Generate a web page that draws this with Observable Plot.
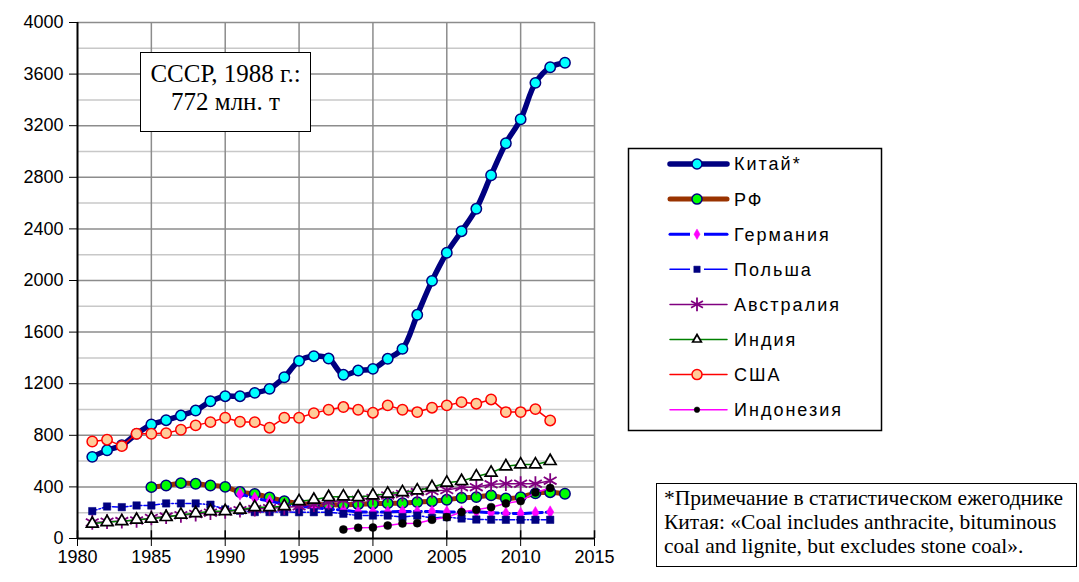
<!DOCTYPE html>
<html><head><meta charset="utf-8">
<script src="https://cdn.jsdelivr.net/npm/d3@7"></script>
<script src="https://cdn.jsdelivr.net/npm/@observablehq/plot@0.6"></script>
<style>
body{margin:0;background:#fff;}
#wrap{position:relative;width:1079px;height:582px;overflow:hidden;background:#fff;}
#wrap svg{position:absolute;left:0;top:0;}
.box{position:absolute;border:1.5px solid #000;background:#fff;box-sizing:border-box;font-family:"Liberation Serif","Times New Roman",serif;color:#000;}
</style></head><body><div id="wrap"></div>
<script>
// ---- data ----
const years = [1981,1982,1983,1984,1985,1986,1987,1988,1989,1990,1991,1992,1993,1994,1995,1996,1997,1998,1999,2000,2001,2002,2003,2004,2005,2006,2007,2008,2009,2010,2011,2012,2013];
const china = [633,684,723,811,884,917,953,992,1064,1103,1103,1129,1160,1250,1377,1413,1395,1269,1302,1315,1393,1470,1734,1997,2215,2382,2556,2816,3064,3250,3532,3653,3688]; // from 1981
const rf = [398,411,429,424,411,400,360,345,318,290,272,265,262,260,266,270,272,274,282,289,300,316,321,334,310,321,350,359,347]; // from 1985
const germany = [345,312,290,265,250,240,228,220,205,205,205,210,208,210,205,205,207,200,195,193,200,205]; // from 1991
const poland = [212,248,243,256,256,272,272,272,262,225,215,205,205,205,204,204,204,192,178,178,178,166,178,160,166,155,147,146,145,145,145,145]; // from 1981
const australia = [125,130,135,140,160,170,180,190,200,210,220,228,235,240,250,262,280,295,300,315,334,345,360,368,375,398,398,420,425,425,425,448]; // from 1981
const india = [114,127,134,145,153,166,184,196,212,212,223,243,243,250,289,300,321,326,321,334,347,359,372,398,432,445,481,510,559,574,574,600]; // from 1981
const usa = [752,766,716,812,812,817,843,877,902,936,905,902,859,936,936,972,998,1019,998,975,1032,998,980,1014,1032,1057,1045,1078,980,980,1003,915]; // from 1981
const indonesia = [70,83,85,100,117,119,145,165,205,222,243,272,290,357,392]; // from 1998

const xTicks = [1980,1985,1990,1995,2000,2005,2010,2015];
const yTicks = [0,400,800,1200,1600,2000,2400,2800,3200,3600,4000];
const yMinor = [200,600,1000,1400,1800,2200,2600,3000,3400,3800];

const series = [
  {name:"Китай*", start:1981, values:china, stroke:"#000080", sw:5.5, dash:null, curve:"catmull-rom", symbol:"circle", r:5.2, fill:"#00ffff", mstroke:"#000080", msw:1.5, lr:5},
  {name:"РФ", start:1985, values:rf, stroke:"#993300", sw:5, dash:null, curve:"catmull-rom", symbol:"circle", r:5.2, fill:"#00ff00", mstroke:"#000080", msw:1.5, lr:5},
  {name:"Германия", start:1991, values:germany, stroke:"#0000ff", sw:3, dash:"7,4", curve:"linear", symbol:"diamond", r:3.8, fill:"#ff00ff", mstroke:"#ff00ff", msw:0.5, lr:3.2},
  {name:"Польша", start:1981, values:poland, stroke:"#0000ff", sw:1.5, dash:"5,2,1.5,2", curve:"linear", symbol:"square", r:4.2, fill:"#000080", mstroke:"#000080", msw:0.5, lr:3.6},
  {name:"Австралия", start:1981, values:australia, stroke:"#800080", sw:1.5, dash:null, curve:"linear", symbol:"asterisk", r:7, fill:"none", mstroke:"#800080", msw:1.8, lr:6.5},
  {name:"Индия", start:1981, values:india, stroke:"#008000", sw:1.5, dash:null, curve:"linear", symbol:"triangle", r:4.4, fill:"#ffffff", mstroke:"#000000", msw:1.7, lr:3.2},
  {name:"США", start:1981, values:usa, stroke:"#ff0000", sw:1.5, dash:null, curve:"linear", symbol:"circle", r:5.2, fill:"#ffcc99", mstroke:"#ff0000", msw:1.5, lr:5},
  {name:"Индонезия", start:1998, values:indonesia, stroke:"#ff00ff", sw:1.5, dash:null, curve:"linear", symbol:"circle", r:4, fill:"#000000", mstroke:"#000000", msw:0.5, lr:2.8}
];
series.forEach(s => {
  const i0 = years.indexOf(s.start);
  s.data = s.values.map((v, i) => ({year: years[i0 + i], value: v}));
});

const seriesMarks = series.flatMap(s => [
  Plot.line(s.data, {x:"year", y:"value", stroke:s.stroke, strokeWidth:s.sw, strokeDasharray:s.dash, curve:s.curve}),
  Plot.dot(s.data, {x:"year", y:"value", symbol:s.symbol, r:s.r, fill:s.fill, stroke:s.mstroke, strokeWidth:s.msw})
]);

const chart = Plot.plot({
  width:1079, height:582,
  marginLeft:77, marginRight:485, marginTop:22, marginBottom:44,
  style:{fontFamily:"'Liberation Sans', Arial, sans-serif", fontSize:"18px", color:"#000", background:"transparent", overflow:"visible"},
  x:{domain:[1980,2015], ticks:xTicks, tickFormat:d=>String(d), tickSize:8, tickPadding:4, label:null},
  y:{domain:[0,4000], ticks:yTicks, tickFormat:d=>String(d), tickSize:8, tickPadding:6, label:null},
  marks:[
    Plot.ruleY(yMinor, {stroke:"#c8c8c8", strokeWidth:1.5}),
    Plot.ruleY(yTicks.filter(d=>d>0), {stroke:"#8c8c8c", strokeWidth:1.5}),
    Plot.ruleX(xTicks.filter(d=>d>1980), {stroke:"#8c8c8c", strokeWidth:1.5}),
    ...seriesMarks,
    Plot.ruleX([1980], {stroke:"#000", strokeWidth:2}),
    Plot.ruleY([0], {stroke:"#000", strokeWidth:2}),
    Plot.ruleX(xTicks, {y1:0, y2:60, stroke:"#000", strokeWidth:1.5})
  ]
});
chart.querySelectorAll("g[aria-label$='axis'] line, g[aria-label*='tick'] line").forEach(l=>{l.setAttribute("stroke-width","1.5");});
chart.querySelectorAll("text").forEach(t=>{t.setAttribute("font-size","18");});
const wrap = document.getElementById("wrap");
wrap.appendChild(chart);

// ---- legend ----
const lg = d3.select(wrap).append("svg").attr("width",1079).attr("height",582).style("pointer-events","none");
lg.append("rect").attr("x",628.5).attr("y",148.5).attr("width",253).attr("height",282).attr("fill","#fff").attr("stroke","#000").attr("stroke-width",1.5);
const symMap = {circle:d3.symbolCircle, square:d3.symbolSquare, diamond:d3.symbolDiamond, asterisk:d3.symbolAsterisk, triangle:d3.symbolTriangle};
series.forEach((s, i) => {
  const y = 164 + i * 35.1;
  lg.append("line").attr("x1",670).attr("x2",727).attr("y1",y).attr("y2",y)
    .attr("stroke",s.stroke).attr("stroke-width",s.sw).attr("stroke-linecap","round");
  if (s.dash) {
    lg.append("rect").attr("x",690).attr("y",y-4).attr("width",14).attr("height",8).attr("fill","#fff");
  }
  lg.append("path").attr("transform",`translate(697,${y})`)
    .attr("d", d3.symbol(symMap[s.symbol], Math.PI*s.lr*s.lr)())
    .attr("fill", s.fill).attr("stroke", s.mstroke).attr("stroke-width", s.msw);
  lg.append("text").attr("x",734).attr("y",y).attr("dy","0.36em")
    .attr("font-family","'Liberation Sans', Arial, sans-serif").attr("font-size",18).attr("letter-spacing","2px")
    .text(s.name);
});

// ---- annotation boxes ----
const note = document.createElement("div");
note.className = "box";
Object.assign(note.style, {left:"140px", top:"52px", width:"171px", height:"80px", fontSize:"25px", lineHeight:"28px", textAlign:"center", paddingTop:"7px", whiteSpace:"nowrap"});
note.innerHTML = "СССР, 1988 г.:<br>772 млн. т";
wrap.appendChild(note);

const foot = document.createElement("div");
foot.className = "box";
Object.assign(foot.style, {left:"656px", top:"483px", width:"421px", height:"84px", fontSize:"21.5px", lineHeight:"24px", paddingLeft:"7px", paddingTop:"2px", whiteSpace:"nowrap"});
foot.innerHTML = "*Примечание в статистическом ежегоднике<br>Китая: «Coal includes anthracite, bituminous<br>coal and lignite, but excludes stone coal».";
wrap.appendChild(foot);
</script></body></html>
